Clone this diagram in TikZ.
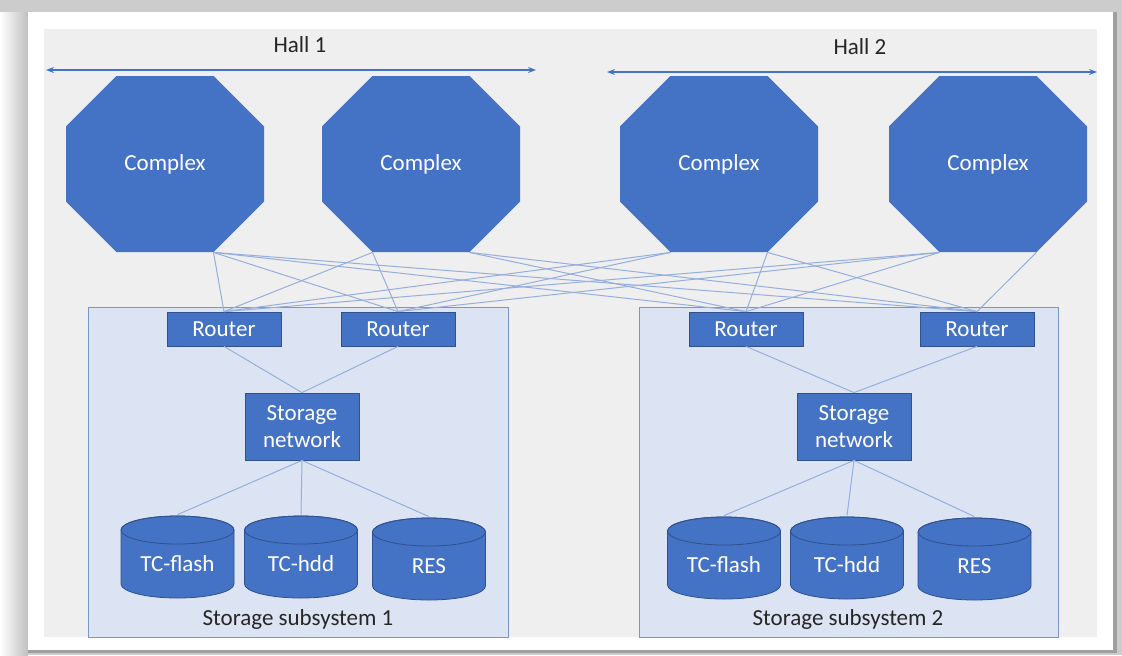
\documentclass[tikz,border=0pt]{standalone}
\usepackage{fontspec}
\setmainfont{Carlito}
\usepackage{tikz}
\usetikzlibrary{arrows.meta,calc,positioning,shapes.misc}
\definecolor{accent}{RGB}{68,114,196}
\definecolor{accentdark}{RGB}{47,82,143}
\definecolor{linkblue}{RGB}{150,174,220}
\definecolor{subfill}{RGB}{220,228,243}
\definecolor{subline}{RGB}{122,149,200}
\definecolor{hallgray}{RGB}{239,239,239}
\definecolor{labeltext}{RGB}{38,38,38}

\tikzset{
  txt/.style={font=\fontsize{11.5}{13.5}\selectfont},
  complex/.style={txt, chamfered rectangle, chamfered rectangle xsep=25.5pt,
    chamfered rectangle ysep=24.5pt, fill=accent, text=white,
    minimum width=99pt, minimum height=88pt, inner sep=0pt},
  router/.style={txt, rectangle, fill=accent, draw=accentdark, line width=0.4pt,
    text=white, minimum width=57pt, minimum height=17pt, inner sep=0pt},
  snet/.style={router, minimum height=33.5pt, align=center},
  disk/.style={txt, rectangle, text=white, minimum width=57.5pt,
    minimum height=42pt, inner sep=0pt, text height=16.4pt, text depth=2pt,
    path picture={
      \filldraw[fill=accent, draw=accentdark, line width=0.4pt]
        ($(path picture bounding box.north)+(-56.5,15)$)
        -- ($(path picture bounding box.south)+(-56.5,-15)$)
        arc[start angle=180, end angle=360, x radius=28.25pt, y radius=7pt]
        -- ($(path picture bounding box.north)+(56.5,15)$)
        arc[start angle=0, end angle=180, x radius=28.25pt, y radius=7pt]
        -- cycle;
      \draw[accentdark, line width=0.4pt] ($(path picture bounding box.north)+(0,15)$)
        ellipse[x radius=28.25pt, y radius=7pt];
    }},
  subsys/.style={rectangle, fill=subfill, draw=subline, line width=0.5pt,
    minimum width=210pt, minimum height=165pt, inner sep=0pt},
  lbl/.style={txt, text=labeltext},
  link/.style={draw=linkblue, line width=0.5pt},
  hallarrow/.style={draw=accent, line width=0.6pt,
    {Stealth[length=4pt,width=3pt]}-{Stealth[length=4pt,width=3pt]}}
}

\begin{document}
\begin{tikzpicture}[x=0.5pt,y=-0.5pt]
\useasboundingbox (0,0) rectangle (1122,655);

% frame with shadow
\fill[gray!40] (0,0) rectangle (1122,655);
\shade[left color=white, right color=gray!50] (0,12) rectangle (28,655);
\fill[gray!75] (1113,12) rectangle (1117,652);
\fill[gray!75] (28,650) rectangle (1117,653);
\fill[white] (28,12) rectangle (1113,650);
\fill[hallgray] (44,29) rectangle (1097,637);

% halls
\node[lbl] (hall1) at (300,45) {Hall 1};
\node[lbl] (hall2) at (860,47) {Hall 2};
\coordinate (h1a) at (46,70);
\coordinate (h1b) at (536,70);
\coordinate (h2a) at (607,72);
\coordinate (h2b) at (1097,72);
\draw[hallarrow] (h1a) -- (h1b);
\draw[hallarrow] (h2a) -- (h2b);

% storage subsystems
\node[subsys] (sub1) at (298,472) {};
\node[subsys, minimum width=209.5pt] (sub2) at (848.5,472) {};

% complexes
\foreach \i/\x in {1/165, 2/421, 3/719, 4/988}
  \node[complex] (c\i) at (\x,164) {Complex};

% routers
\foreach \i/\x in {1/224, 2/398, 3/746, 4/977}
  \node[router] (r\i) at (\x,329) {Router};

% storage networks and disks
\node[snet] (sn1) at (302,426.5) {Storage\\network};
\node[snet] (sn2) at (854,426.5) {Storage\\network};
\node[disk] (flash1) at (177.5,557) {TC-flash};
\node[disk] (hdd1) at (301,557) {TC-hdd};
\node[disk] (res1) at (429,559) {RES};
\node[disk] (flash2) at (724,558) {TC-flash};
\node[disk] (hdd2) at (847,558) {TC-hdd};
\node[disk] (res2) at (974.5,559) {RES};

\node[lbl] (sub1lbl) at (298,619) {Storage subsystem 1};
\node[lbl] (sub2lbl) at (848,619) {Storage subsystem 2};

% complex to router links
\foreach \c/\r/\s in {1/1/1, 1/2/1, 1/3/1, 1/4/1, 2/1/-1, 2/2/-1, 2/3/1, 2/4/1,
                      3/1/-1, 3/2/-1, 3/3/1, 3/4/1, 4/1/-1, 4/2/-1, 4/3/-1, 4/4/1}
  \draw[link] ($(c\c.south)+(\s*48.5,0)$) -- (r\r.north);

% inside the subsystems
\foreach \n in {1,2}{
  \draw[link] (sn\n.south) -- (flash\n.north);
  \draw[link] (sn\n.south) -- (hdd\n.north);
  \draw[link] (sn\n.south) -- (res\n.north);
}
\draw[link] (r1.south) -- (sn1.north);
\draw[link] (r2.south) -- (sn1.north);
\draw[link] (r3.south) -- (sn2.north);
\draw[link] (r4.south) -- (sn2.north);
\end{tikzpicture}
\end{document}
